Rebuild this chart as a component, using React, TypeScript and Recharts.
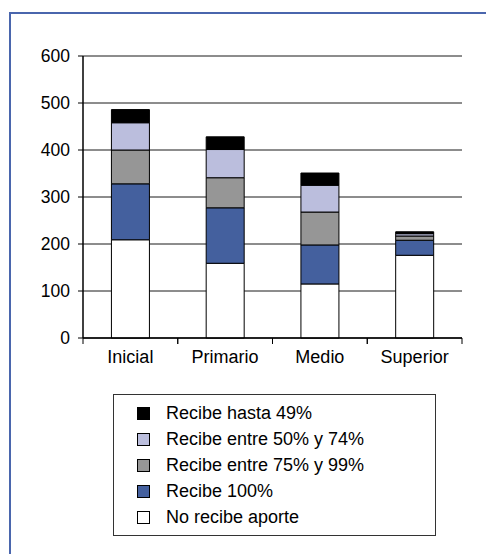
import React from 'react';
import { BarChart, Bar, XAxis, YAxis, CartesianGrid } from 'recharts';

const categories = ['Inicial', 'Primario', 'Medio', 'Superior'];
const noRecibe = [209, 159, 115, 176];
const recibe100 = [119, 118, 83, 32];
const recibe75a99 = [72, 64, 70, 9];
const recibe50a74 = [58, 60, 57, 5];
const recibeHasta49 = [28, 27, 26, 4];
const yTicks = [0, 100, 200, 300, 400, 500, 600];

const series = [
  { key: 'noRecibe', name: 'No recibe aporte', color: '#ffffff', values: noRecibe },
  { key: 'recibe100', name: 'Recibe 100%', color: '#44609e', values: recibe100 },
  { key: 'recibe75a99', name: 'Recibe entre 75% y 99%', color: '#969696', values: recibe75a99 },
  { key: 'recibe50a74', name: 'Recibe entre 50% y 74%', color: '#bbbedd', values: recibe50a74 },
  { key: 'recibeHasta49', name: 'Recibe hasta 49%', color: '#000000', values: recibeHasta49 },
];

const data = categories.map((c, i) => {
  const row: Record<string, string | number> = { category: c };
  series.forEach((s) => {
    row[s.key] = s.values[i];
  });
  return row;
});

const FONT = '"Liberation Sans", Arial, sans-serif';

const XTick = (props: any) => {
  const { x, y, payload } = props;
  const half = payload && payload.offset ? payload.offset : 47.4;
  return (
    <g>
      <line x1={x - half} y1={y - 2} x2={x - half} y2={y + 4} stroke="#000" strokeWidth={1} />
      <line x1={x + half} y1={y - 2} x2={x + half} y2={y + 4} stroke="#000" strokeWidth={1} />
      <text x={x} y={y + 23} textAnchor="middle" fontSize={18} fontFamily={FONT} fill="#000">
        {payload.value}
      </text>
    </g>
  );
};

export default function App() {
  return (
    <div style={{ position: 'absolute', left: 0, top: 0, width: 486, height: 554, background: '#fff', overflow: 'hidden' }}>
      <div
        style={{
          position: 'absolute',
          left: 9,
          top: 12,
          width: 600,
          height: 600,
          borderTop: '2px solid #4a66ad',
          borderLeft: '2px solid #4a66ad',
        }}
      />
      <div style={{ position: 'absolute', left: 0, top: 0 }}>
        <BarChart
          width={486}
          height={554}
          data={data}
          margin={{ top: 56, right: 24, left: 23, bottom: 186 }}
          barCategoryGap="30%"
        >
          <CartesianGrid vertical={false} stroke="#1a1a1a" strokeWidth={1} />
          <XAxis
            dataKey="category"
            height={30}
            tickSize={0}
            axisLine={{ stroke: '#000', strokeWidth: 1.5 }}
            tick={<XTick />}
            interval={0}
          />
          <YAxis
            width={60}
            domain={[0, 600]}
            ticks={yTicks}
            tickSize={5}
            tickMargin={8}
            tickLine={{ stroke: '#000' }}
            axisLine={{ stroke: '#000', strokeWidth: 1.5 }}
            tick={{ fontSize: 17.5, fontFamily: FONT, fill: '#000' }}
          />
          <YAxis
            yAxisId="r"
            orientation="right"
            width={0}
            domain={[0, 600]}
            tick={false}
            tickLine={false}
            axisLine={{ stroke: '#000', strokeWidth: 2 }}
          />
          {series.map((s) => (
            <Bar
              key={s.key}
              dataKey={s.key}
              name={s.name}
              stackId="a"
              fill={s.color}
              stroke="#000"
              strokeWidth={1}
              isAnimationActive={false}
            />
          ))}
        </BarChart>
      </div>
      <div
        style={{
          position: 'absolute',
          left: 113,
          top: 394,
          width: 323,
          height: 142,
          border: '1.5px solid #333',
          boxSizing: 'border-box',
          fontFamily: FONT,
          fontSize: 18,
          color: '#000',
          paddingTop: 5,
        }}
      >
        {[...series].reverse().map((s) => (
          <div key={s.key} style={{ display: 'flex', alignItems: 'center', height: 26.2, paddingLeft: 23 }}>
            <span
              style={{
                display: 'inline-block',
                width: 13,
                height: 13,
                background: s.color,
                border: '1px solid #000',
                boxSizing: 'border-box',
                marginRight: 16,
                flexShrink: 0,
              }}
            />
            <span style={{ whiteSpace: 'nowrap' }}>{s.name}</span>
          </div>
        ))}
      </div>
    </div>
  );
}
